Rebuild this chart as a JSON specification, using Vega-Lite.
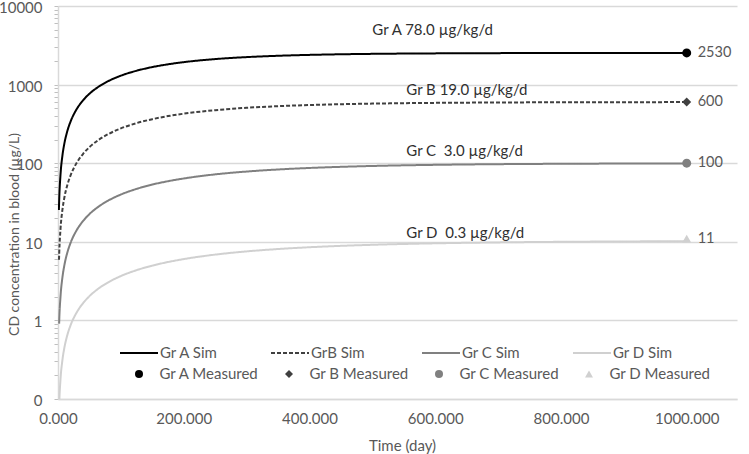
{
  "$schema": "https://vega.github.io/schema/vega-lite/v6.json",
  "width": 679,
  "height": 393,
  "autosize": {"type": "none"},
  "padding": {"left": 58, "top": 6, "right": 12, "bottom": 55},
  "config": {"font": "Lato", "view": {"stroke": null}},
  "datasets": {
    "sim": [
      {"s": "Gr A Sim", "t": 1.4, "v": 25.4}, {"s": "Gr A Sim", "t": 2, "v": 36.2}, {"s": "Gr A Sim", "t": 4, "v": 71.8}, {"s": "Gr A Sim", "t": 7, "v": 124.4}, {"s": "Gr A Sim", "t": 10, "v": 175.8}, {"s": "Gr A Sim", "t": 15, "v": 259}, {"s": "Gr A Sim", "t": 20, "v": 339}, {"s": "Gr A Sim", "t": 30, "v": 491.5}, {"s": "Gr A Sim", "t": 40, "v": 633}, {"s": "Gr A Sim", "t": 50, "v": 765}, {"s": "Gr A Sim", "t": 65, "v": 945.5}, {"s": "Gr A Sim", "t": 80, "v": 1108}, {"s": "Gr A Sim", "t": 100, "v": 1298.5}, {"s": "Gr A Sim", "t": 125, "v": 1501}, {"s": "Gr A Sim", "t": 150, "v": 1671}, {"s": "Gr A Sim", "t": 175, "v": 1812}, {"s": "Gr A Sim", "t": 200, "v": 1930.6}, {"s": "Gr A Sim", "t": 250, "v": 2112}, {"s": "Gr A Sim", "t": 300, "v": 2238}, {"s": "Gr A Sim", "t": 350, "v": 2326}, {"s": "Gr A Sim", "t": 400, "v": 2388}, {"s": "Gr A Sim", "t": 450, "v": 2431}, {"s": "Gr A Sim", "t": 500, "v": 2461}, {"s": "Gr A Sim", "t": 600, "v": 2496}, {"s": "Gr A Sim", "t": 700, "v": 2514}, {"s": "Gr A Sim", "t": 800, "v": 2522}, {"s": "Gr A Sim", "t": 900, "v": 2526}, {"s": "Gr A Sim", "t": 1000, "v": 2528},
      {"s": "GrB Sim", "t": 1.6, "v": 5.9}, {"s": "GrB Sim", "t": 2, "v": 7.4}, {"s": "GrB Sim", "t": 4, "v": 14.7}, {"s": "GrB Sim", "t": 7, "v": 25.5}, {"s": "GrB Sim", "t": 10, "v": 36.1}, {"s": "GrB Sim", "t": 15, "v": 53.3}, {"s": "GrB Sim", "t": 20, "v": 70.0}, {"s": "GrB Sim", "t": 30, "v": 101.8}, {"s": "GrB Sim", "t": 40, "v": 131.8}, {"s": "GrB Sim", "t": 50, "v": 160.0}, {"s": "GrB Sim", "t": 65, "v": 199.0}, {"s": "GrB Sim", "t": 80, "v": 234.6}, {"s": "GrB Sim", "t": 100, "v": 277.3}, {"s": "GrB Sim", "t": 125, "v": 323.6}, {"s": "GrB Sim", "t": 150, "v": 363.3}, {"s": "GrB Sim", "t": 175, "v": 397.3}, {"s": "GrB Sim", "t": 200, "v": 426.4}, {"s": "GrB Sim", "t": 250, "v": 472.7}, {"s": "GrB Sim", "t": 300, "v": 506.6}, {"s": "GrB Sim", "t": 350, "v": 531.5}, {"s": "GrB Sim", "t": 400, "v": 549.8}, {"s": "GrB Sim", "t": 450, "v": 563.2}, {"s": "GrB Sim", "t": 500, "v": 573.0}, {"s": "GrB Sim", "t": 600, "v": 585.5}, {"s": "GrB Sim", "t": 700, "v": 592.2}, {"s": "GrB Sim", "t": 800, "v": 595.8}, {"s": "GrB Sim", "t": 900, "v": 597.7}, {"s": "GrB Sim", "t": 1000, "v": 598.8},
      {"s": "Gr C Sim", "t": 1.8, "v": 0.91}, {"s": "Gr C Sim", "t": 2, "v": 1.02}, {"s": "Gr C Sim", "t": 4, "v": 2.02}, {"s": "Gr C Sim", "t": 7, "v": 3.51}, {"s": "Gr C Sim", "t": 10, "v": 4.97}, {"s": "Gr C Sim", "t": 15, "v": 7.37}, {"s": "Gr C Sim", "t": 20, "v": 9.70}, {"s": "Gr C Sim", "t": 30, "v": 14.19}, {"s": "Gr C Sim", "t": 40, "v": 18.45}, {"s": "Gr C Sim", "t": 50, "v": 22.5}, {"s": "Gr C Sim", "t": 65, "v": 28.2}, {"s": "Gr C Sim", "t": 80, "v": 33.5}, {"s": "Gr C Sim", "t": 100, "v": 39.95}, {"s": "Gr C Sim", "t": 125, "v": 47.1}, {"s": "Gr C Sim", "t": 150, "v": 53.5}, {"s": "Gr C Sim", "t": 175, "v": 59.0}, {"s": "Gr C Sim", "t": 200, "v": 63.9}, {"s": "Gr C Sim", "t": 250, "v": 72.1}, {"s": "Gr C Sim", "t": 300, "v": 78.3}, {"s": "Gr C Sim", "t": 350, "v": 83.2}, {"s": "Gr C Sim", "t": 400, "v": 87.0}, {"s": "Gr C Sim", "t": 450, "v": 89.9}, {"s": "Gr C Sim", "t": 500, "v": 92.2}, {"s": "Gr C Sim", "t": 600, "v": 95.3}, {"s": "Gr C Sim", "t": 700, "v": 97.2}, {"s": "Gr C Sim", "t": 800, "v": 98.3}, {"s": "Gr C Sim", "t": 900, "v": 99.0}, {"s": "Gr C Sim", "t": 1000, "v": 99.4},
      {"s": "Gr D Sim", "t": 1.4, "v": 0.063}, {"s": "Gr D Sim", "t": 2, "v": 0.090}, {"s": "Gr D Sim", "t": 4, "v": 0.180}, {"s": "Gr D Sim", "t": 7, "v": 0.312}, {"s": "Gr D Sim", "t": 10, "v": 0.443}, {"s": "Gr D Sim", "t": 15, "v": 0.658}, {"s": "Gr D Sim", "t": 20, "v": 0.867}, {"s": "Gr D Sim", "t": 30, "v": 1.274}, {"s": "Gr D Sim", "t": 40, "v": 1.662}, {"s": "Gr D Sim", "t": 50, "v": 2.034}, {"s": "Gr D Sim", "t": 65, "v": 2.563}, {"s": "Gr D Sim", "t": 80, "v": 3.056}, {"s": "Gr D Sim", "t": 100, "v": 3.667}, {"s": "Gr D Sim", "t": 125, "v": 4.357}, {"s": "Gr D Sim", "t": 150, "v": 4.976}, {"s": "Gr D Sim", "t": 175, "v": 5.531}, {"s": "Gr D Sim", "t": 200, "v": 6.028}, {"s": "Gr D Sim", "t": 250, "v": 6.871}, {"s": "Gr D Sim", "t": 300, "v": 7.549}, {"s": "Gr D Sim", "t": 350, "v": 8.092}, {"s": "Gr D Sim", "t": 400, "v": 8.528}, {"s": "Gr D Sim", "t": 450, "v": 8.878}, {"s": "Gr D Sim", "t": 500, "v": 9.159}, {"s": "Gr D Sim", "t": 600, "v": 9.565}, {"s": "Gr D Sim", "t": 700, "v": 9.826}, {"s": "Gr D Sim", "t": 800, "v": 9.995}, {"s": "Gr D Sim", "t": 900, "v": 10.104}, {"s": "Gr D Sim", "t": 1000, "v": 10.17}
    ],
    "measured": [
      {"s": "Gr A Measured", "t": 1000, "v": 2530, "label": "2530"},
      {"s": "Gr B Measured", "t": 1000, "v": 600, "label": "600"},
      {"s": "Gr C Measured", "t": 1000, "v": 100, "label": "100"},
      {"s": "Gr D Measured", "t": 1000, "v": 11, "label": "11"}
    ],
    "notes": [
      {"text": "Gr A 78.0 µg/kg/d", "t": 500, "v": 4930},
      {"text": "Gr B 19.0 µg/kg/d", "t": 554, "v": 845},
      {"text": "Gr C \u00a03.0 µg/kg/d", "t": 554, "v": 145},
      {"text": "Gr D \u00a00.3 µg/kg/d", "t": 554, "v": 13}
    ]
  },
  "resolve": {"scale": {"color": "independent", "strokeDash": "independent", "shape": "independent"}},
  "layer": [
    {
      "data": {"name": "sim"},
      "mark": {"type": "line", "strokeWidth": 2, "clip": true, "interpolate": "monotone"},
      "encoding": {
        "x": {
          "field": "t", "type": "quantitative",
          "scale": {"domain": [0, 1080], "nice": false, "zero": false},
          "axis": {
            "values": [0, 200, 400, 600, 800, 1000], "format": ".3f", "grid": false, "ticks": false, "labelFlush": false,
            "domainColor": "#d9d9d9", "domainWidth": 1.5, "labelFontSize": 15, "labelColor": "#595959", "labelPadding": 12,
            "title": "Time (day)", "titleFontSize": 15, "titleFontWeight": "normal", "titleColor": "#595959",
            "titleX": 344, "titleY": 46, "titleBaseline": "middle"
          }
        },
        "y": {
          "field": "v", "type": "quantitative",
          "scale": {"type": "log", "domain": [0.1, 10000], "nice": false},
          "axis": {
            "values": [0.1, 0.2, 0.3, 0.4, 0.5, 0.6, 0.7, 0.8, 0.9, 1, 2, 3, 4, 5, 6, 7, 8, 9, 10, 20, 30, 40, 50, 60, 70, 80, 90, 100, 200, 300, 400, 500, 600, 700, 800, 900, 1000, 2000, 3000, 4000, 5000, 6000, 7000, 8000, 9000, 10000],
            "labelExpr": "abs(log(datum.value)/LN10 - round(log(datum.value)/LN10)) < 0.001 ? (datum.value < 1 ? '0' : format(datum.value, 'd')) : ''",
            "labelOverlap": false, "labelFontSize": 15, "labelColor": "#595959", "labelPadding": 12, "labelBaseline": "middle", "labelOffset": 1.5,
            "gridColor": "#d9d9d9", "gridWidth": 1.3,
            "gridOpacity": {"condition": {"test": "abs(log(datum.value)/LN10 - round(log(datum.value)/LN10)) < 0.001", "value": 1}, "value": 0},
            "domainColor": "#d9d9d9", "domainWidth": 1.5, "tickColor": "#bfbfbf", "tickSize": 4,
            "title": "CD concentration in blood (µg/L)", "titleFontSize": 14, "titleFontWeight": "normal", "titleColor": "#595959",
            "titleX": -44, "titleY": 228, "titleBaseline": "middle", "titleAngle": -90
          }
        },
        "color": {
          "field": "s", "type": "nominal",
          "scale": {"domain": ["Gr A Sim", "GrB Sim", "Gr C Sim", "Gr D Sim"], "range": ["#000000", "#404040", "#808080", "#d0d0d0"]},
          "legend": {
            "title": null, "orient": "none", "legendX": 61, "legendY": 339, "direction": "horizontal",
            "columns": 4, "gridAlign": "all", "columnPadding": 50, "rowPadding": 5, "clipHeight": 16, "padding": 0,
            "symbolType": "stroke", "symbolSize": 1444, "symbolStrokeWidth": 2, "labelOffset": 1,
            "labelFontSize": 15, "labelColor": "#595959", "labelLimit": 250
          }
        },
        "strokeDash": {
          "field": "s", "type": "nominal",
          "scale": {"domain": ["Gr A Sim", "GrB Sim", "Gr C Sim", "Gr D Sim"], "range": [[1, 0], [4, 2], [1, 0], [1, 0]]},
          "legend": {
            "title": null, "orient": "none", "legendX": 61, "legendY": 339, "direction": "horizontal",
            "columns": 4, "gridAlign": "all", "columnPadding": 50, "rowPadding": 5, "clipHeight": 16, "padding": 0,
            "symbolType": "stroke", "symbolSize": 1444, "symbolStrokeWidth": 2, "labelOffset": 1,
            "labelFontSize": 15, "labelColor": "#595959", "labelLimit": 250
          }
        }
      }
    },
    {
      "data": {"name": "measured"},
      "mark": {"type": "point", "filled": true, "opacity": 1, "size": 80},
      "encoding": {
        "x": {"field": "t", "type": "quantitative"},
        "y": {"field": "v", "type": "quantitative"},
        "color": {
          "field": "s", "type": "nominal",
          "scale": {"domain": ["Gr A Measured", "Gr B Measured", "Gr C Measured", "Gr D Measured"], "range": ["#000000", "#404040", "#808080", "#d0d0d0"]},
          "legend": {
            "title": null, "orient": "none", "legendX": 61, "legendY": 360, "direction": "horizontal",
            "columns": 4, "gridAlign": "all", "columnPadding": 8, "rowPadding": 5, "clipHeight": 16, "padding": 0,
            "symbolSize": 64, "symbolStrokeWidth": 0, "symbolOffset": 12.5, "labelOffset": 13,
            "labelFontSize": 15, "labelColor": "#595959", "labelLimit": 250
          }
        },
        "shape": {
          "field": "s", "type": "nominal",
          "scale": {"domain": ["Gr A Measured", "Gr B Measured", "Gr C Measured", "Gr D Measured"], "range": ["circle", "diamond", "circle", "triangle-up"]},
          "legend": {
            "title": null, "orient": "none", "legendX": 61, "legendY": 360, "direction": "horizontal",
            "columns": 4, "gridAlign": "all", "columnPadding": 8, "rowPadding": 5, "clipHeight": 16, "padding": 0,
            "symbolSize": 64, "symbolStrokeWidth": 0, "symbolOffset": 12.5, "labelOffset": 13,
            "labelFontSize": 15, "labelColor": "#595959", "labelLimit": 250
          }
        }
      }
    },
    {
      "data": {"name": "measured"},
      "mark": {"type": "text", "align": "left", "baseline": "middle", "dx": 11, "fontSize": 14.5, "color": "#595959"},
      "encoding": {
        "x": {"field": "t", "type": "quantitative"},
        "y": {"field": "v", "type": "quantitative"},
        "text": {"field": "label"}
      }
    },
    {
      "data": {"name": "notes"},
      "mark": {"type": "text", "align": "left", "baseline": "middle", "fontSize": 15, "color": "#303030"},
      "encoding": {
        "x": {"field": "t", "type": "quantitative"},
        "y": {"field": "v", "type": "quantitative"},
        "text": {"field": "text"}
      }
    }
  ]
}
